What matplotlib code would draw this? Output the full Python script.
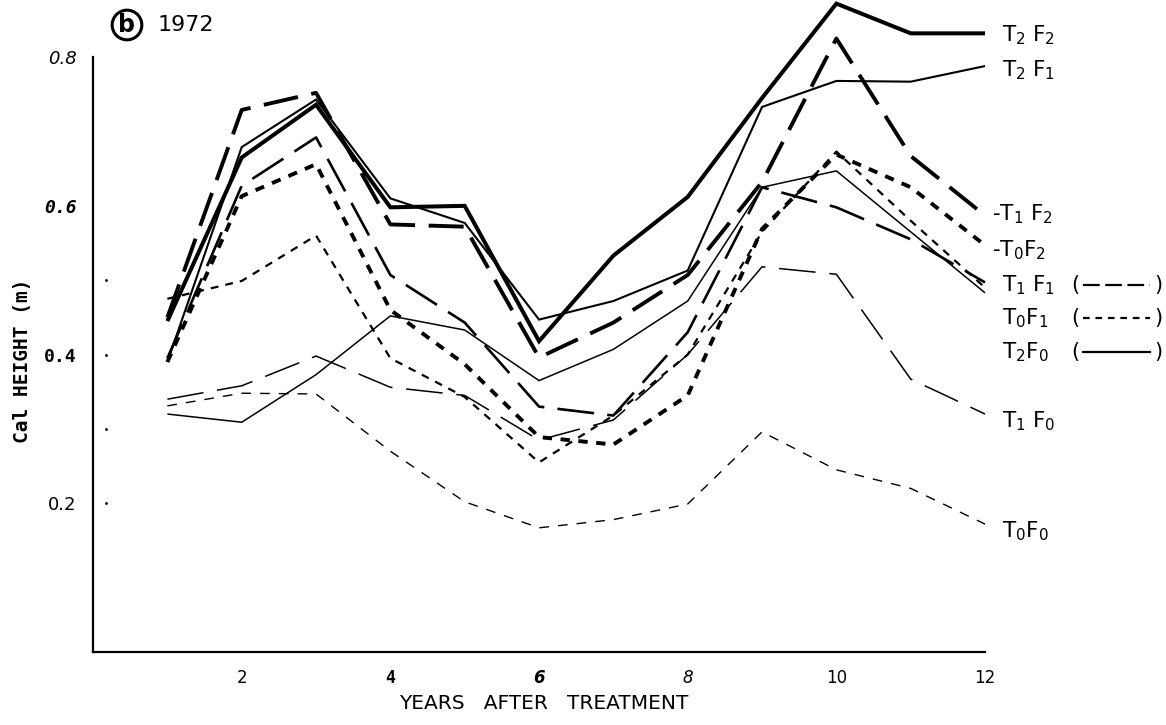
import numpy as np
import matplotlib.pyplot as plt
from matplotlib import transforms

plt.rcParams['font.family'] = ['DejaVu Sans']
plt.rcParams['mathtext.default'] = 'regular'

# --- data (Cal height in m, years 1..12) ---
years = np.arange(1, 13)

t2f2 = [0.445, 0.665, 0.736, 0.598, 0.600, 0.418, 0.533, 0.612, 0.745, 0.872, 0.832, 0.832]
t2f1 = [0.390, 0.679, 0.743, 0.610, 0.577, 0.447, 0.472, 0.513, 0.733, 0.768, 0.767, 0.788]
t1f2 = [0.450, 0.729, 0.752, 0.575, 0.572, 0.396, 0.443, 0.507, 0.632, 0.825, 0.667, 0.587]
t0f2 = [0.390, 0.613, 0.656, 0.460, 0.387, 0.289, 0.279, 0.345, 0.569, 0.669, 0.625, 0.547]
t1f1 = [0.395, 0.627, 0.692, 0.507, 0.443, 0.330, 0.318, 0.430, 0.625, 0.598, 0.555, 0.497]
t0f1 = [0.475, 0.499, 0.560, 0.395, 0.343, 0.255, 0.318, 0.400, 0.565, 0.673, 0.580, 0.490]
t2f0 = [0.320, 0.309, 0.373, 0.452, 0.433, 0.365, 0.407, 0.472, 0.625, 0.647, 0.565, 0.483]
t1f0 = [0.340, 0.358, 0.398, 0.356, 0.345, 0.285, 0.312, 0.400, 0.518, 0.508, 0.367, 0.320]
t0f0 = [0.331, 0.348, 0.347, 0.270, 0.202, 0.167, 0.178, 0.199, 0.296, 0.245, 0.220, 0.172]

names = ['T2F2', 'T2F1', 'T1F2', 'T0F2', 'T1F1', 'T0F1', 'T2F0', 'T1F0', 'T0F0']
values = [t2f2, t2f1, t1f2, t0f2, t1f1, t0f1, t2f0, t1f0, t0f0]
labels = [r'T$_2$ F$_2$', r'T$_2$ F$_1$', r'-T$_1$ F$_2$', r'-T$_0$F$_2$', r'T$_1$ F$_1$',
          r'T$_0$F$_1$', r'T$_2$F$_0$', r'T$_1$ F$_0$', r'T$_0$F$_0$']

yticks = [0.2, 0.4, 0.6, 0.8]
xticks = [2, 4, 6, 8, 10, 12]
dot_levels = [0.2, 0.3, 0.4, 0.5]

# --- styles ---
styles = {
    'T2F2': dict(lw=2.9, ls='-'),
    'T2F1': dict(lw=1.5, ls='-'),
    'T1F2': dict(lw=2.8, ls=(0, (9, 3.5))),
    'T0F2': dict(lw=2.8, ls=(0, (2.4, 2.2))),
    'T1F1': dict(lw=1.9, ls=(0, (14, 5))),
    'T0F1': dict(lw=1.6, ls=(0, (3.5, 3.2))),
    'T2F0': dict(lw=1.1, ls='-'),
    'T1F0': dict(lw=1.1, ls=(0, (24, 9))),
    'T0F0': dict(lw=1.0, ls=(0, (7, 6.5))),
}
# vertical placement of the end labels (data units)
label_pos = {'T2F2': 0.830, 'T2F1': 0.783, 'T1F2': 0.589, 'T0F2': 0.540, 'T1F1': 0.493,
             'T0F1': 0.449, 'T2F0': 0.403, 'T1F0': 0.310, 'T0F0': 0.163}
label_dx = {'T1F2': 7, 'T0F2': 7}
keys = {'T1F1': (0, (7.5, 2.5)), 'T0F1': (0, (3, 2.6)), 'T2F0': '-'}

fig = plt.figure(figsize=(11.66, 7.25), dpi=100)
ax = fig.add_axes([0.0798, 0.1007, 0.765, 0.8205])

for name, vals in zip(names, values):
    st = styles[name]
    ax.plot(years, vals, color='black', linewidth=st['lw'], linestyle=st['ls'],
            solid_capstyle='butt', dash_capstyle='butt', solid_joinstyle='miter', clip_on=False)

ax.plot(np.full(len(dot_levels), 0.18), dot_levels, ls='none', marker='.', ms=2, color='black')

ax.set_xlim(0, 12)
ax.set_ylim(0, 0.8)
for s in ['top', 'right']:
    ax.spines[s].set_visible(False)
for s in ['left', 'bottom']:
    ax.spines[s].set_linewidth(1.6)
ax.tick_params(length=0)

ax.set_yticks(yticks)
ax.set_yticklabels(['0.2', '0.4', '0.6', '0.8'], fontsize=13)
ystyles = [dict(), dict(weight='bold', family='DejaVu Sans Mono'),
           dict(weight='bold', style='italic', family='DejaVu Sans Mono'), dict(style='italic')]
for lab, st in zip(ax.get_yticklabels(), ystyles):
    lab.set(**st)
ax.tick_params(axis='y', pad=12)

ax.set_xticks(xticks)
ax.set_xticklabels([str(v) for v in xticks], fontsize=12)
xstyles = [dict(), dict(weight='bold', family='DejaVu Sans Mono'), dict(style='italic', weight='bold'),
           dict(style='italic'), dict(), dict()]
for lab, st in zip(ax.get_xticklabels(), xstyles):
    lab.set(**st)
ax.tick_params(axis='x', pad=12)

ax.set_xlabel('YEARS   AFTER   TREATMENT', fontsize=14.5)
ax.xaxis.set_label_coords(0.505, -0.086)
ax.xaxis.label.set_va('center')
ax.set_ylabel('Cal HEIGHT (m)', fontsize=14, family='DejaVu Sans Mono', weight='bold')
ax.yaxis.set_label_coords(-0.079, 0.49)
ax.yaxis.label.set_va('center')

# end labels
for name, lab in zip(names, labels):
    ax.annotate(lab, xy=(12, label_pos[name]), xytext=(12 - label_dx.get(name, 0), 0),
                textcoords='offset points', va='center', ha='left', fontsize=15.5,
                annotation_clip=False)

# line-type keys in parentheses
trans = transforms.blended_transform_factory(fig.transFigure, ax.transData)
for name, ls in keys.items():
    y = label_pos[name]
    ax.text(1071 / 1166, y, '(', transform=trans, fontsize=15, va='center', ha='left')
    ax.text(1162 / 1166, y, ')', transform=trans, fontsize=15, va='center', ha='right')
    ax.plot([1083 / 1166, 1150 / 1166], [y, y], transform=trans, clip_on=False,
            color='black', lw=1.6, ls=ls, dash_capstyle='butt')

# panel tag
fig.text(127 / 1166, 1 - 25 / 725, 'b', fontsize=17, weight='bold', ha='center', va='center',
         bbox=dict(boxstyle='circle,pad=0.12', fc='none', ec='black', lw=2.2))
fig.text(158 / 1166, 1 - 25 / 725, '1972', fontsize=16, ha='left', va='center')

fig.savefig('out.png', dpi=100)
